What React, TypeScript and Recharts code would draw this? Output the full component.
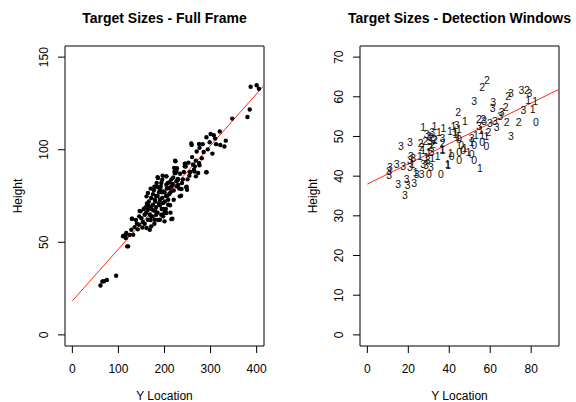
import React from 'react';
import { ScatterChart, Scatter, XAxis, YAxis, ReferenceLine, ReferenceArea } from 'recharts';

const FONT = '"Liberation Sans", Arial, Helvetica, sans-serif';

// ---------- Left panel: Full Frame (Y location, height) ----------
const fullFramePoints: [number, number][] = [
  [61, 26.7], [65, 28.8], [69, 29], [75, 29.7], [95, 31.9], [119, 47.8], [110, 53.2], [115, 53.7], [129, 62.7], [146, 66.9], [217, 62.7],
  [387, 134], [400, 134.8], [405, 132.9], [385, 121.7], [380, 117.7], [347, 116.8], [320, 109.8], [307, 107.8], [300, 108.5], [291, 106.7],
  [333, 104.9], [321, 102.5], [330, 101.7], [304, 97.9], [294, 100.2], [285, 98.8], [275, 103.1], [258, 103.4], [259, 102.6], [276, 101],
  [281, 95.4], [268, 94.1], [276, 91.6], [291, 87.8], [264, 89.2], [265, 88.2], [254, 86], [244, 92.5], [246, 90.9], [223, 94.1],
  [221, 90.2], [222, 88.3], [224, 87.4], [229, 83.8], [204, 85.6], [185, 85.1], [195, 83.8], [248, 80], [236, 75.2], [218, 81.5], [211, 79.3],
  [224, 93.7], [246, 92.5], [244, 91], [266, 91], [275, 92.8], [255, 87.8], [273, 87.4], [291, 87.8], [268, 85.6], [226, 88.3],
  [222, 87.4], [229, 84.2], [211, 82.4], [204, 85.6], [186, 84.7], [193, 82], [204, 81.1], [215, 80.2], [226, 80.2], [237, 78.8],
  [247, 79.8], [249, 78.4], [233, 74.8], [220, 73], [206, 75.2], [197, 77.5], [190, 78.8], [184, 79.9], [177, 78.1], [164, 76.6],
  [161, 74.8], [171, 73.9], [179, 73], [190, 73], [197, 71.2], [208, 70.3], [203, 68], [204, 65.8], [197, 64], [190, 62.2],
  [182, 64.9], [177, 67.2], [168, 69], [175, 70.3], [164, 67.6], [148, 66.7], [157, 64.9], [171, 64], [179, 62.2], [193, 64.9],
  [215, 62.5], [200, 61.3], [164, 62.2], [157, 60], [168, 56.8], [171, 58.6], [161, 57.7], [145, 59.5], [130, 62.7], [135, 58.2],
  [128, 56.8], [117, 55], [111, 53.5], [116, 52.3], [132, 54.1], [121, 47.8],
  [150, 63], [155, 68], [162, 71], [168, 65], [172, 68], [180, 72], [185, 75], [190, 70], [195, 74], [200, 77], [205, 79], [210, 76],
  [215, 84], [226, 83], [232, 79], [238, 82], [185, 66], [178, 60], [170, 62], [152, 58], [140, 60], [145, 64], [124, 54], [192, 80],
  [198, 68], [208, 73], [212, 70], [175, 76], [160, 66], [182, 69], [188, 77], [196, 86], [250, 84], [256, 88], [262, 92], [298, 104], [310, 106],
  [178, 80], [183, 82], [188, 71], [194, 68], [201, 72], [207, 82], [213, 77], [219, 85], [227, 90], [234, 87], [240, 84], [186, 62],
  [174, 64], [166, 72], [159, 69], [153, 61], [142, 57], [138, 62], [200, 66], [213, 66], [220, 78], [230, 81], [242, 88], [252, 93],
  [260, 96], [270, 99], [283, 103], [312, 103], [170, 79], [180, 67], [194, 77], [203, 75], [182, 75], [165, 70],
];
const fullData = fullFramePoints.map(([x, y]) => ({ x, y }));
const fullFitLine = [{ x: 0, y: 18.4 }, { x: 416, y: 134.7 }];
const fullXTicks = [0, 100, 200, 300, 400];
const fullYTicks = [0, 50, 100, 150];

// ---------- Right panel: Detection Windows (x, y, class label) ----------
const detectionPoints: [number, number, string][] = [
  [58.4, 64.2, '2'], [56.1, 62.5, '2'], [52.2, 58.9, '3'], [75.3, 61.7, '3'], [77.9, 61.7, '2'], [79.2, 61.0, '3'],
  [68.8, 60.0, '2'], [70.1, 60.9, '3'], [78.6, 59.1, '1'], [82.0, 58.9, '1'], [76.2, 56.7, '3'], [80.7, 56.8, '1'],
  [61.5, 58.5, '3'], [61.2, 57.1, '3'], [67.5, 57.4, '2'], [65.6, 56.2, '3'], [64.9, 55.2, '3'], [68.0, 53.5, '2'],
  [73.9, 53.5, '2'], [82.3, 53.5, '0'], [70.1, 50.0, '3'], [44.4, 56.0, '2'], [47.7, 53.9, '1'], [43.6, 52.8, '3'],
  [54.5, 54.3, '2'], [56.6, 54.3, '2'], [59.9, 53.3, '3'], [62.3, 53.9, '3'], [63.1, 52.2, '3'], [59.1, 51.1, '2'],
  [56.1, 50.3, '1'], [58.2, 50.0, '1'], [54.5, 52.6, '3'], [27.3, 52.4, '1'], [32.7, 52.5, '1'], [37.1, 52.0, '1'],
  [40.3, 51.4, '1'], [42.8, 51.1, '1'], [44.7, 51.8, '1'], [31.7, 51.1, '3'], [31.1, 49.9, '2'], [30.6, 48.9, '3'],
  [36.6, 49.5, '3'], [36.6, 48.3, '2'], [36.6, 46.8, '1'], [16.4, 47.5, '3'], [20.8, 48.6, '3'], [28.4, 48.9, '2'],
  [26.5, 47.2, '2'], [27.3, 46.4, '1'], [44.4, 49.7, '1'], [44.7, 49.3, '0'], [50.9, 49.5, '3'], [50.9, 48.6, '1'],
  [52.2, 47.8, '0'], [56.1, 48.5, '0'], [58.2, 47.5, '0'], [40.7, 45.8, '1'], [41.2, 45.1, '0'], [44.9, 46.0, '0'],
  [44.9, 44.1, '0'], [46.8, 46.6, '0'], [49.3, 45.9, '1'], [50.9, 45.5, '0'], [52.2, 44.1, '0'], [34.3, 44.9, '1'],
  [36.6, 46.6, '1'], [31.4, 45.9, '3'], [30.6, 47.2, '2'], [31.7, 44.5, '1'], [39.2, 43.0, '1'], [39.5, 42.8, '1'],
  [35.9, 40.5, '0'], [27.3, 43.0, '3'], [28.6, 42.8, '3'], [31.1, 42.2, '3'], [30.1, 40.5, '0'], [26.5, 40.5, '3'],
  [55.0, 41.9, '1'], [23.6, 40.9, '1'], [20.8, 42.2, '3'], [22.4, 44.4, '3'], [21.3, 45.1, '3'], [20.8, 43.9, '3'],
  [25.7, 45.1, '1'], [28.9, 44.7, '1'], [14.3, 43.0, '3'], [17.5, 42.6, '3'], [11.0, 42.2, '3'], [10.5, 41.3, '3'],
  [10.7, 40.2, '3'], [15.1, 38.0, '3'], [19.2, 39.2, '3'], [19.7, 37.7, '3'], [22.9, 38.2, '3'], [24.1, 40.5, '3'],
  [18.4, 35.2, '3'], [30.0, 46.0, '1'], [33.0, 49.0, '2'], [29.0, 50.5, '3'], [32.7, 49.3, '2'], [30.1, 50.1, '3'],
  [57.0, 53.8, '3'], [55.5, 51.5, '1'], [53.0, 50.2, '1'], [42.0, 52.5, '1'], [43.0, 50.6, '1'], [32.0, 48.0, '2'],
  [35.0, 51.0, '1'], [26.0, 48.4, '2'], [29.5, 44.0, '3'], [22.0, 43.0, '1'], [47.5, 47.0, '1'], [45.8, 47.8, '0'],
];
const detData = detectionPoints.map(([x, y, c]) => ({ x, y, c }));
const detFitLine = [{ x: 0, y: 38.0 }, { x: 93.6, y: 61.9 }];
const detXTicks = [0, 20, 40, 60, 80];
const detYTicks = [0, 10, 20, 30, 40, 50, 60, 70];

const CHART_H = 402;
const PLOT_TOP = 46;
const PLOT_BOTTOM = 346;

const makeXTick = () => (props: any) => (
  <text x={props.x} y={373} textAnchor="middle" fontSize={12} fontFamily={FONT} fill="#000">
    {props.payload.value}
  </text>
);

const makeYTick = (labelX: number) => (props: any) => (
  <text
    x={labelX}
    y={props.y}
    transform={`rotate(-90, ${labelX}, ${props.y})`}
    textAnchor="middle"
    fontSize={12}
    fontFamily={FONT}
    fill="#000"
  >
    {props.payload.value}
  </text>
);

const Dot = (props: any) => <circle cx={props.cx} cy={props.cy} r={2.2} fill="#000" />;
const LabelMark = (props: any) => (
  <text x={props.cx} y={props.cy} dy="0.35em" textAnchor="middle" fontSize={10.5} fontFamily={FONT} fill="#111">
    {props.payload.c}
  </text>
);

interface PanelProps {
  left: number;
  width: number;
  plotLeft: number;
  plotRight: number;
  title: string;
  xDomain: [number, number];
  yDomain: [number, number];
  xTicks: number[];
  yTicks: number[];
  data: any[];
  shape: any;
  fit: { x: number; y: number }[];
}

function Panel(p: PanelProps) {
  const plotW = p.plotRight - p.plotLeft;
  const cx = p.plotLeft + plotW / 2;
  return (
    <div style={{ position: 'absolute', left: p.left, top: 0, width: p.width, height: CHART_H }}>
      <ScatterChart
        width={p.width}
        height={CHART_H}
        margin={{ top: PLOT_TOP, right: p.width - p.plotRight, bottom: 0, left: 0 }}
      >
        <XAxis
          type="number"
          dataKey="x"
          domain={p.xDomain}
          ticks={p.xTicks}
          allowDataOverflow
          height={CHART_H - PLOT_BOTTOM}
          axisLine={false}
          tickLine={{ stroke: '#000', strokeWidth: 1 }}
          tickSize={7}
          tick={makeXTick()}
          interval={0}
          label={{
            content: () => (
              <text x={cx} y={400} textAnchor="middle" fontSize={12} fontFamily={FONT} fill="#000">
                Y Location
              </text>
            ),
          }}
        />
        <YAxis
          type="number"
          dataKey="y"
          domain={p.yDomain}
          ticks={p.yTicks}
          allowDataOverflow
          width={p.plotLeft}
          axisLine={false}
          tickLine={{ stroke: '#000', strokeWidth: 1 }}
          tickSize={7}
          tick={makeYTick(p.plotLeft - 16.7)}
          interval={0}
          label={{
            content: () => {
              const lx = p.plotLeft - 43;
              const ly = (PLOT_TOP + PLOT_BOTTOM) / 2;
              return (
                <text
                  x={lx}
                  y={ly}
                  transform={`rotate(-90, ${lx}, ${ly})`}
                  textAnchor="middle"
                  fontSize={12}
                  fontFamily={FONT}
                  fill="#000"
                >
                  Height
                </text>
              );
            },
          }}
        />
        <Scatter data={p.data} shape={p.shape} isAnimationActive={false} />
        <ReferenceLine
          segment={p.fit}
          stroke="#ff2a10"
          strokeWidth={1}
          ifOverflow="visible"
        />
        <ReferenceArea
          x1={p.xDomain[0]}
          x2={p.xDomain[1]}
          y1={p.yDomain[0]}
          y2={p.yDomain[1]}
          fill="none"
          fillOpacity={0}
          stroke="#000"
          strokeWidth={1}
          ifOverflow="visible"
        />
      </ScatterChart>
      <div
        style={{
          position: 'absolute',
          left: cx - 150,
          width: 300,
          top: 10,
          textAlign: 'center',
          fontFamily: FONT,
          fontWeight: 'bold',
          fontSize: 14,
          lineHeight: '16px',
          color: '#000',
          whiteSpace: 'nowrap',
        }}
      >
        {p.title}
      </div>
    </div>
  );
}

export default function App() {
  return (
    <div style={{ position: 'absolute', left: 0, top: 0, width: 576, height: 402, background: '#fff', overflow: 'hidden' }}>
      <Panel
        left={0}
        width={288}
        plotLeft={65}
        plotRight={264}
        title="Target Sizes - Full Frame"
        xDomain={[-16, 416]}
        yDomain={[-6, 156]}
        xTicks={fullXTicks}
        yTicks={fullYTicks}
        data={fullData}
        shape={Dot}
        fit={fullFitLine}
      />
      <Panel
        left={288}
        width={288}
        plotLeft={72}
        plotRight={271}
        title="Target Sizes - Detection Windows"
        xDomain={[-3.6, 93.6]}
        yDomain={[-2.8, 72.8]}
        xTicks={detXTicks}
        yTicks={detYTicks}
        data={detData}
        shape={LabelMark}
        fit={detFitLine}
      />
    </div>
  );
}
